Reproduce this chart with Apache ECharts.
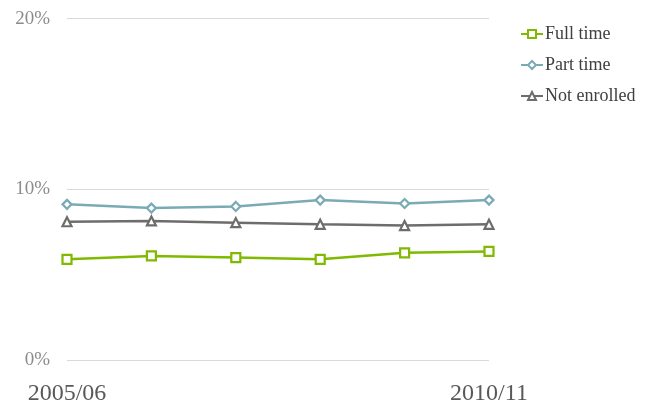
<!DOCTYPE html>
<html><head><meta charset="utf-8">
<script src="https://cdn.jsdelivr.net/npm/echarts@6/dist/echarts.min.js"></script>
<style>html,body{margin:0;padding:0;background:#fff}#c{width:657px;height:402px}</style>
</head><body><div id="c"></div>
<script>
const categories = ["2005/06","2006/07","2007/08","2008/09","2009/10","2010/11"];
const fullTime = [5.9, 6.1, 6.0, 5.9, 6.28, 6.36];
const partTime = [9.12, 8.9, 9.0, 9.37, 9.17, 9.37];
const notEnrolled = [8.1, 8.15, 8.05, 7.95, 7.88, 7.95];
const yTicks = [0, 10, 20];

const chart = echarts.init(document.getElementById('c'));
const serif = "Liberation Serif";
function mk(name, data, color, symbol, size) {
  return {
    name, type: 'line', data, symbol, symbolSize: size,
    lineStyle: { color, width: 2.5 },
    itemStyle: { color: '#fff', borderColor: color, borderWidth: 2.2 },
    emphasis: { disabled: true }, animation: false
  };
}
chart.setOption({
  animation: false,
  grid: { left: 67, right: 168, top: 18.7, bottom: 42, containLabel: false, outerBoundsMode: 'none' },
  legend: {
    orient: 'vertical', left: 520, top: 25, padding: 0, itemGap: 13, itemWidth: 22, itemHeight: 10,
    textStyle: { fontFamily: serif, fontSize: 18, color: '#404040', padding: [0,0,0,-3] },
    data: ['Full time', 'Part time', 'Not enrolled']
  },
  xAxis: {
    type: 'category', data: categories, boundaryGap: false,
    axisLine: { show: false }, axisTick: { show: false },
    axisLabel: {
      interval: (i) => i === 0 || i === categories.length - 1,
      fontFamily: serif, fontSize: 24, color: '#595959', margin: 22
    }
  },
  yAxis: {
    type: 'value', min: yTicks[0], max: yTicks[yTicks.length - 1], interval: 10,
    axisLine: { show: false }, axisTick: { show: false },
    splitLine: { lineStyle: { color: '#d9d9d9', width: 1 } },
    axisLabel: { formatter: '{value}%', fontFamily: serif, fontSize: 19, color: '#8c8c8c', margin: 17 }
  },
  series: [
    mk('Full time', fullTime, '#7fba00', 'rect', 9),
    mk('Part time', partTime, '#7aabb5', 'diamond', 9),
    mk('Not enrolled', notEnrolled, '#6d6d6d', 'triangle', 9)
  ]
});
</script></body></html>
